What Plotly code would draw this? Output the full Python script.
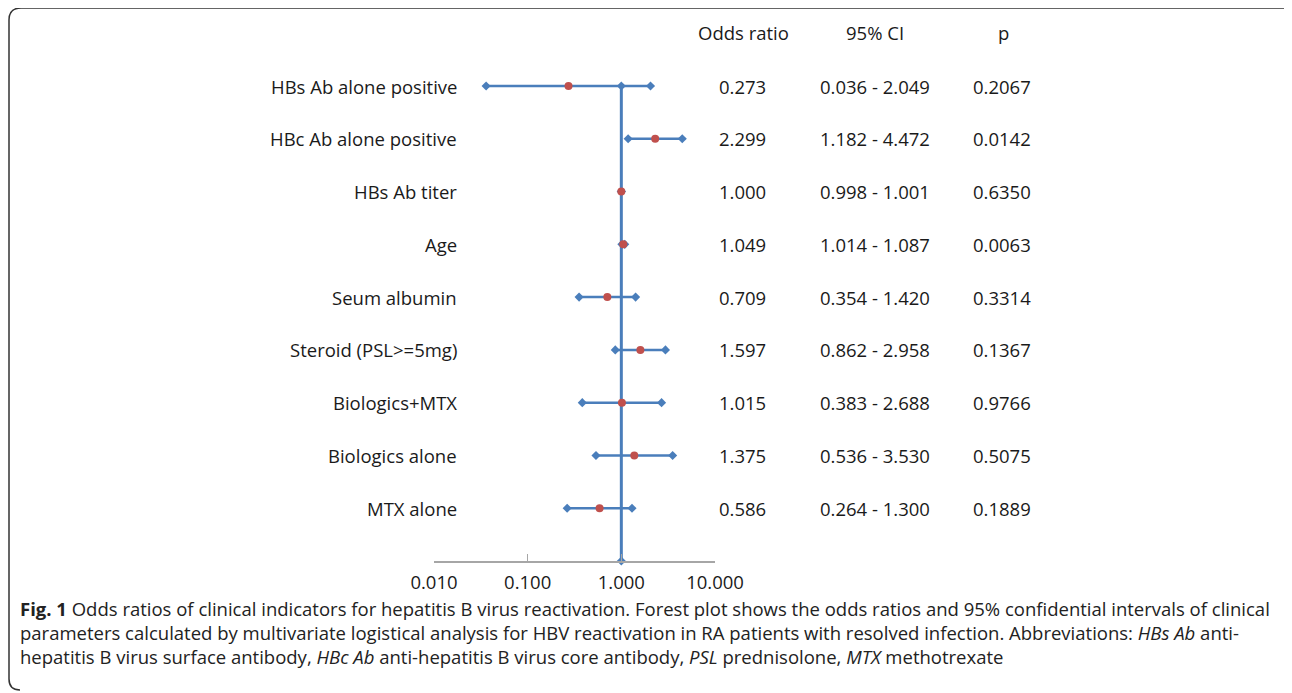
import plotly.graph_objects as go

W, H = 1292, 693
OFF = 8  # page body margin in the browser

labels = ["HBs Ab alone positive", "HBc Ab alone positive", "HBs Ab titer", "Age",
          "Seum albumin", "Steroid (PSL>=5mg)", "Biologics+MTX", "Biologics alone", "MTX alone"]
odds = [0.273, 2.299, 1.000, 1.049, 0.709, 1.597, 1.015, 1.375, 0.586]
ci_low = [0.036, 1.182, 0.998, 1.014, 0.354, 0.862, 0.383, 0.536, 0.264]
ci_high = [2.049, 4.472, 1.001, 1.087, 1.420, 2.958, 2.688, 3.530, 1.300]
odds_txt = ["0.273", "2.299", "1.000", "1.049", "0.709", "1.597", "1.015", "1.375", "0.586"]
ci_txt = ["0.036 - 2.049", "1.182 - 4.472", "0.998 - 1.001", "1.014 - 1.087", "0.354 - 1.420",
          "0.862 - 2.958", "0.383 - 2.688", "0.536 - 3.530", "0.264 - 1.300"]
p_txt = ["0.2067", "0.0142", "0.6350", "0.0063", "0.3314", "0.1367", "0.9766", "0.5075", "0.1889"]
headers = ["Odds ratio", "95% CI", "p"]
tick_vals = [0.01, 0.1, 1, 10]
tick_text = ["0.010", "0.100", "1.000", "10.000"]

caption_lines = [
    "<b>Fig. 1</b> Odds ratios of clinical indicators for hepatitis B virus reactivation. Forest plot shows the odds ratios and 95% confidential intervals of clinical",
    "parameters calculated by multivariate logistical analysis for HBV reactivation in RA patients with resolved infection. Abbreviations: <i>HBs Ab</i> anti-",
    "hepatitis B virus surface antibody, <i>HBc Ab</i> anti-hepatitis B virus core antibody, <i>PSL</i> prednisolone, <i>MTX</i> methotrexate",
]

BLUE = "#4a7ebb"
RED = "#c0504d"
FONT = "Open Sans"
TXT = "#1a1a1a"
FS = 18.5

def px(x):
    return (x - OFF) / W

def py(y):
    return 1 - (y - OFF) / H

n = len(labels)
row_top, axis_y = 86, 561
step = (axis_y - row_top) / n

fig = go.Figure()

# reference line at OR = 1
fig.add_trace(go.Scatter(x=[1, 1], y=[0, n], mode="lines+markers",
                         line=dict(color=BLUE, width=3),
                         marker=dict(symbol="diamond", size=7, color=BLUE),
                         cliponaxis=False, hoverinfo="skip", showlegend=False))

for i in range(n):
    fig.add_trace(go.Scatter(x=[ci_low[i], ci_high[i]], y=[i, i], mode="lines+markers",
                             line=dict(color=BLUE, width=2.5),
                             marker=dict(symbol="diamond", size=7, color=BLUE),
                             cliponaxis=False, showlegend=False))

fig.add_trace(go.Scatter(x=odds, y=list(range(n)), mode="markers",
                         marker=dict(symbol="circle", size=8, color=RED),
                         cliponaxis=False, showlegend=False))

ann = []
def txt(x, y, s, anchor, yref="y", size=FS, color=TXT):
    ann.append(dict(x=x, y=y, xref="paper", yref=yref, text=s, showarrow=False,
                    xanchor=anchor, yanchor="middle", align="left",
                    font=dict(family=FONT, size=size, color=color)))

for i in range(n):
    txt(px(459), i, labels[i], "right")
    txt(px(742), i, odds_txt[i], "center")
    txt(px(875), i, ci_txt[i], "center")
    txt(px(1002), i, p_txt[i], "center")
for hx, h in zip([743, 875, 1003], headers):
    txt(px(hx), py(33), h, "center", yref="paper")
txt(px(18), py(632), "<br>".join(caption_lines), "left", yref="paper", size=18.5, color="#222")

border = ("M {},{} Q {},{} {},{} L {},{} Q {},{} {},{} L {},{} Q {},{} {},{}").format(
    px(20), py(690), px(9), py(690), px(9), py(679),
    px(9), py(20), px(9), py(8), px(21), py(8),
    px(1282), py(8), px(1290), py(8), px(1292), py(14))

fig.update_layout(
    width=W, height=H,
    margin=dict(l=0, r=0, t=0, b=0, autoexpand=False),
    paper_bgcolor="white", plot_bgcolor="white",
    xaxis=dict(type="log", range=[-2, 1], domain=[px(434), px(715)],
               tickvals=tick_vals, ticktext=tick_text, ticks="inside", ticklen=7,
               tickcolor="#a6a6a6", showline=True, linecolor="#a6a6a6", linewidth=1.5,
               showgrid=False, zeroline=False, ticklabelstandoff=4,
               tickfont=dict(family=FONT, size=FS, color=TXT)),
    yaxis=dict(range=[n, -0.5], domain=[py(axis_y), py(row_top - 0.5 * step)], visible=False,
               showgrid=False, zeroline=False),
    annotations=ann,
    shapes=[dict(type="path", path=border, xref="paper", yref="paper",
                 line=dict(color="#333", width=1.5))],
)

fig.write_html("out.html")
